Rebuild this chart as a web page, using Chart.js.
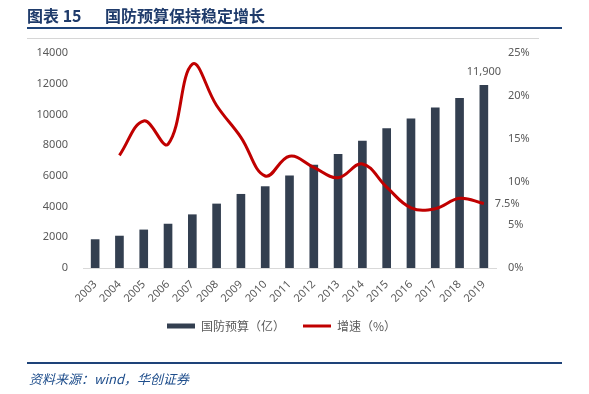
<!DOCTYPE html>
<html>
<head>
<meta charset="utf-8">
<script src="https://cdn.jsdelivr.net/npm/chart.js@4/dist/chart.umd.min.js"></script>
<style>
  body { margin: 0; background: #fff; }
  #wrap { position: relative; width: 589px; height: 394px; overflow: hidden; }
  #myChart { position: absolute; left: 0; top: 0; }
  .title { position: absolute; top: 3px; font: bold 16px "Noto Sans CJK SC", sans-serif; color: #1f3b6b; white-space: nowrap; }
  .rule { position: absolute; }
  .source { position: absolute; left: 29px; top: 369px; font: italic 13px "Noto Sans CJK SC", sans-serif; color: #1f4e8c; white-space: nowrap; }
</style>
</head>
<body>
<div id="wrap">
  <canvas id="myChart" width="589" height="394"></canvas>
  <div class="title" style="left:27px">图表 15</div>
  <div class="title" style="left:105px">国防预算保持稳定增长</div>
  <div class="rule" style="left:27px; top:27px; width:535px; height:2px; background:#1e4379"></div>
  <div class="rule" style="left:27px; top:38px; width:512px; height:1px; background:#d6d6d6"></div>
  <div class="rule" style="left:27px; top:362px; width:535px; height:2px; background:#1e4379"></div>
  <div class="source">资料来源：wind，华创证券</div>
</div>
<script>
const years = ["2003", "2004", "2005", "2006", "2007", "2008", "2009", "2010", "2011",
  "2012", "2013", "2014", "2015", "2016", "2017", "2018", "2019"];
const budget = [1850, 2080, 2480, 2860, 3470, 4170, 4800, 5300, 6000,
  6700, 7400, 8270, 9080, 9710, 10430, 11050, 11900];
const growth = [null, 13.1, 17.1, 14.4, 23.7, 18.9, 15.2, 10.7, 13.0,
  11.7, 10.5, 12.1, 9.4, 7.0, 6.9, 8.1, 7.5];
const leftTicks = [0, 2000, 4000, 6000, 8000, 10000, 12000, 14000];
const rightTicks = [0, 5, 10, 15, 20, 25];
const seriesNames = ["国防预算（亿）", "增速（%）"];

const textColor = "#595959";
const tickFont = { family: "'Noto Sans', 'Noto Sans CJK SC', sans-serif", size: 11 };

// labels on the last bar and the last point
const endLabels = {
  id: "endLabels",
  afterDatasetsDraw(chart) {
    const ctx = chart.ctx;
    const last = years.length - 1;
    const bar = chart.getDatasetMeta(0).data[last];
    const pt = chart.getDatasetMeta(1).data[last];
    ctx.save();
    ctx.font = "11px 'Noto Sans', sans-serif";
    ctx.fillStyle = textColor;
    ctx.textAlign = "center";
    ctx.textBaseline = "bottom";
    ctx.fillText(budget[last].toLocaleString("en-US"), bar.x, bar.y - 8);
    ctx.textAlign = "left";
    ctx.textBaseline = "middle";
    ctx.fillText(growth[last] + "%", pt.x + 11, pt.y);
    ctx.restore();
  }
};

new Chart(document.getElementById("myChart"), {
  data: {
    labels: years,
    datasets: [{
      type: "bar",
      label: seriesNames[0],
      data: budget,
      backgroundColor: "#333f50",
      barThickness: 8,
      yAxisID: "y",
      order: 1
    }, {
      type: "line",
      label: seriesNames[1],
      data: growth,
      borderColor: "#c00000",
      borderWidth: 3,
      tension: 0.4,
      pointRadius: 0,
      pointStyle: "line",
      yAxisID: "y1",
      order: 0
    }]
  },
  plugins: [endLabels],
  options: {
    responsive: false,
    animation: false,
    // right padding only narrows the legend box, the axis width makes up for it
    layout: { padding: { top: 53, left: 0, right: 26, bottom: 52 } },
    plugins: {
      tooltip: { enabled: false },
      legend: {
        position: "bottom",
        labels: {
          color: textColor,
          font: { family: "'Noto Sans CJK SC', sans-serif", size: 12 },
          usePointStyle: true,
          pointStyleWidth: 28,
          boxHeight: 5,
          padding: 18,
          sort: (a, b) => a.datasetIndex - b.datasetIndex,
          generateLabels(chart) {
            const items = Chart.defaults.plugins.legend.labels.generateLabels(chart);
            items.forEach((it) => {
              it.pointStyle = it.datasetIndex === 0 ? "rect" : "line";
            });
            return items;
          }
        }
      }
    },
    scales: {
      x: {
        grid: { display: false },
        border: { display: true, color: "#d9d9d9" },
        ticks: { color: textColor, font: tickFont, maxRotation: 45, minRotation: 45, padding: 2 },
        afterFit: (s) => { s.height = 34; }
      },
      y: {
        position: "left",
        min: 0,
        max: 14000,
        grid: { display: false, drawTicks: false },
        border: { display: false },
        afterBuildTicks: (s) => { s.ticks = leftTicks.map((v) => ({ value: v })); },
        ticks: { color: textColor, font: tickFont, padding: 15, callback: (v) => String(v) },
        afterFit: (s) => { s.width = 83; }
      },
      y1: {
        position: "right",
        min: 0,
        max: 25,
        grid: { display: false, drawTicks: false },
        border: { display: false },
        afterBuildTicks: (s) => { s.ticks = rightTicks.map((v) => ({ value: v })); },
        ticks: { color: textColor, font: tickFont, padding: 12, callback: (v) => v + "%" },
        afterFit: (s) => { s.width = 67; }
      }
    }
  }
});
</script>
</body>
</html>
